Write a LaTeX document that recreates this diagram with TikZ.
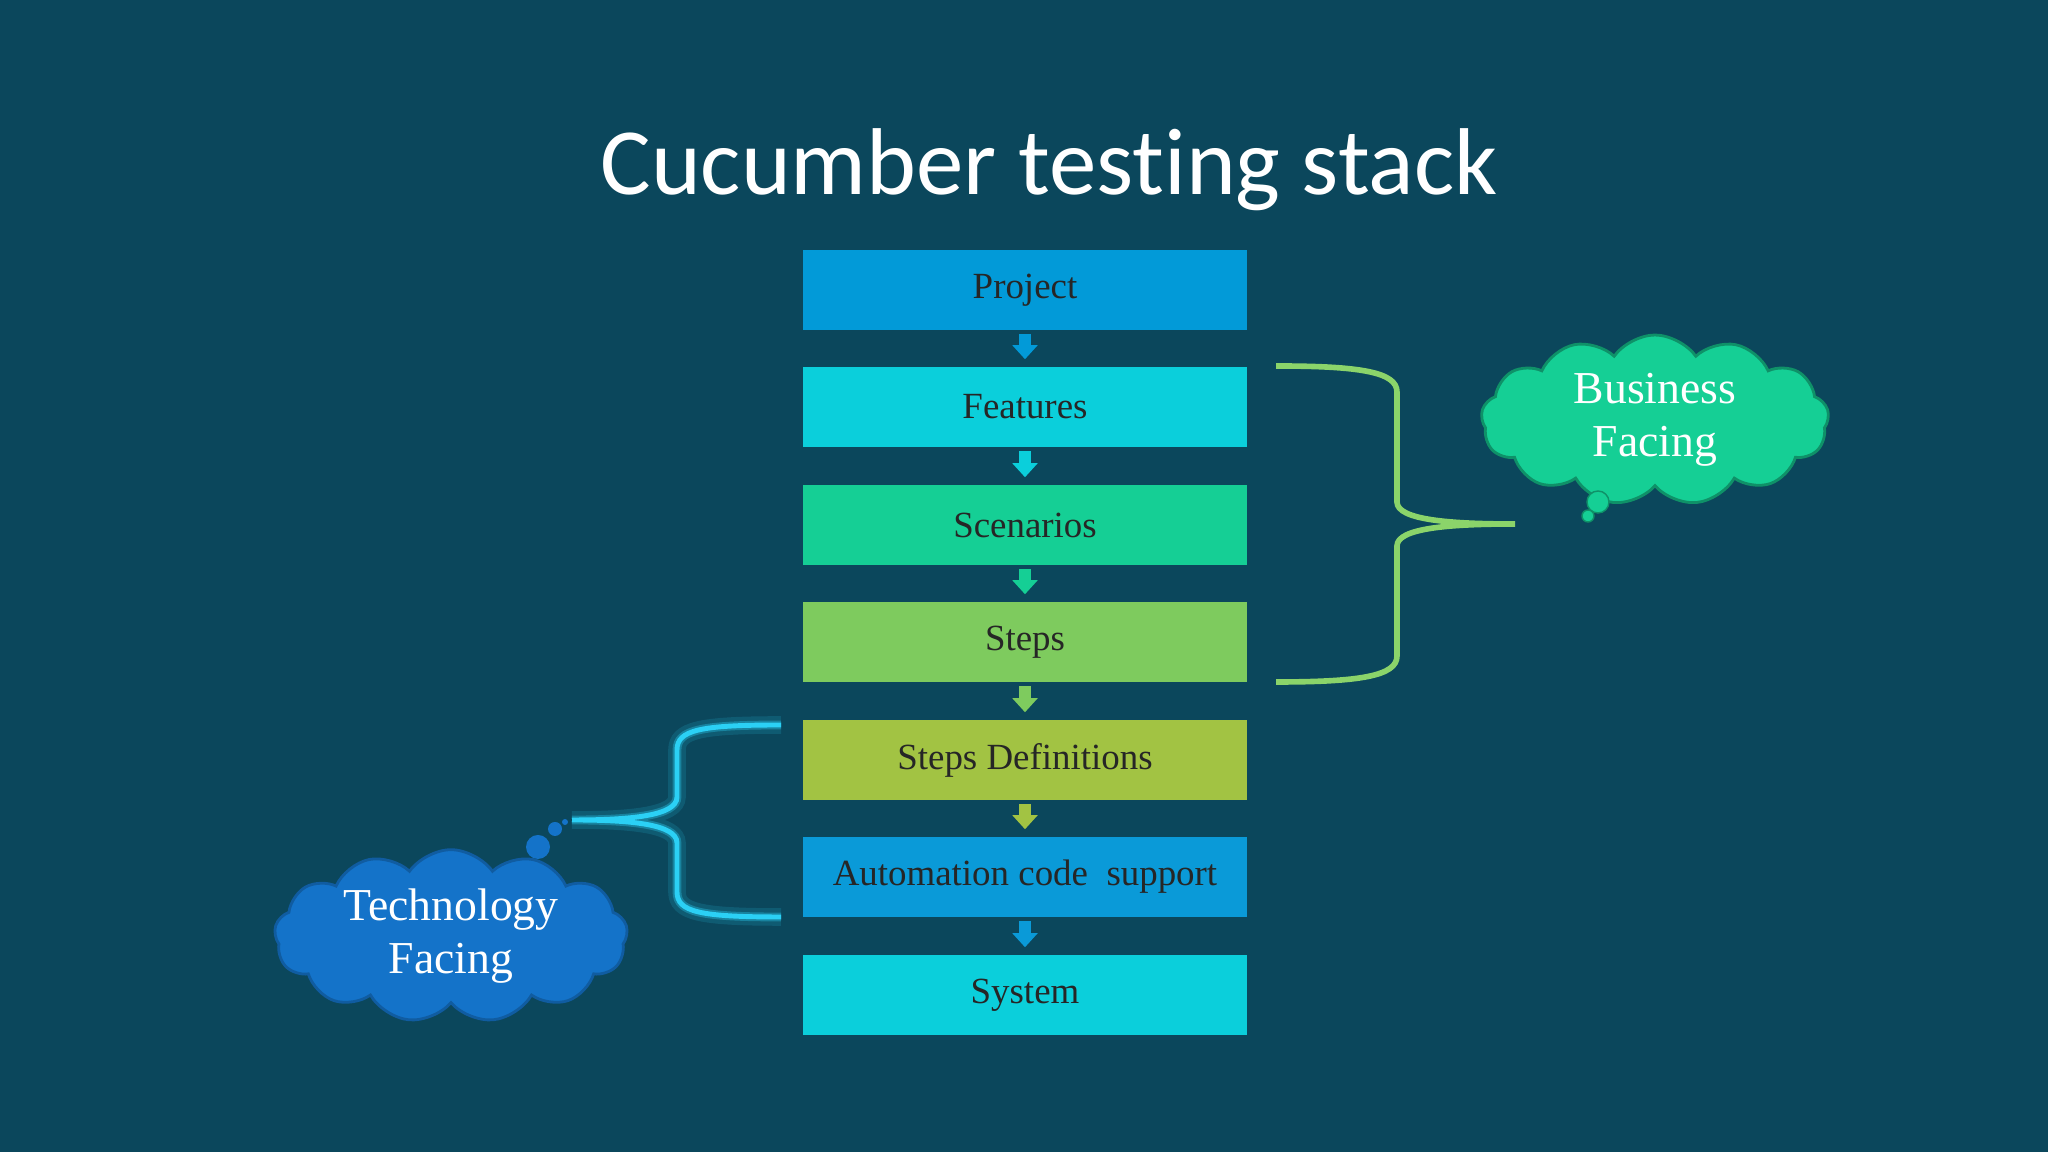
\documentclass[tikz,border=0pt]{standalone}
\usepackage{fontspec}
\setmainfont{Liberation Serif}
\newfontfamily\titlefont{Carlito}[Ligatures=NoCommon]
\usetikzlibrary{shapes.symbols,arrows.meta}
\definecolor{bg}{HTML}{0B475C}
\definecolor{cproj}{HTML}{029AD8}
\definecolor{cfeat}{HTML}{0BCFDB}
\definecolor{cscen}{HTML}{15CF95}
\definecolor{csteps}{HTML}{7ECB5E}
\definecolor{cdef}{HTML}{A2C343}
\definecolor{cauto}{HTML}{0A9AD8}
\definecolor{cbrace}{HTML}{8BD46A}
\definecolor{ctech}{HTML}{1473C9}
\definecolor{cglow}{HTML}{2BD0F5}
\begin{document}
\begin{tikzpicture}[
    box/.style={rectangle, minimum width=4.44cm, minimum height=0.8cm, inner xsep=2pt, font=\fontsize{10.5}{12}\selectfont, text=black!85},
    downarr/.style={-{Triangle[width=7pt,length=4pt]}, line width=3.5pt},
    puff/.style={cloud, cloud puffs=13, cloud puff arc=110, aspect=2.6, inner sep=0pt, draw, line width=0.8pt, text=white, align=center, font=\fontsize{13}{15}\selectfont}
]
\useasboundingbox (0,0) rectangle (20.48,11.52);
\fill[bg] (0,0) rectangle (20.48,11.52);
\node[text=white, font=\titlefont\fontsize{27}{32}\selectfont] (title) at (10.49,9.82) {Cucumber testing stack};

\node[box, fill=cproj]  (project)  at (10.25,8.62) {Project};
\node[box, fill=cfeat]  (features) at (10.25,7.45) {Features};
\node[box, fill=cscen]  (scen)     at (10.25,6.27) {Scenarios};
\node[box, fill=csteps] (steps)    at (10.25,5.10) {Steps};
\node[box, fill=cdef]   (defs)     at (10.25,3.92) {Steps Definitions};
\node[box, fill=cauto]  (auto)     at (10.25,2.75) {Automation code\ \ support};
\node[box, fill=cfeat]  (system)   at (10.25,1.57) {System};

\draw[downarr, cproj]  ([yshift=-1pt]project.south)  -- ([yshift=2pt]features.north);
\draw[downarr, cfeat]  ([yshift=-1pt]features.south) -- ([yshift=2pt]scen.north);
\draw[downarr, cscen]  ([yshift=-1pt]scen.south)     -- ([yshift=2pt]steps.north);
\draw[downarr, csteps] ([yshift=-1pt]steps.south)    -- ([yshift=2pt]defs.north);
\draw[downarr, cdef]   ([yshift=-1pt]defs.south)     -- ([yshift=2pt]auto.north);
\draw[downarr, cauto]  ([yshift=-1pt]auto.south)     -- ([yshift=2pt]system.north);

% business brace
\draw[cbrace, line width=1.6pt]
  (12.76,7.86) .. controls (13.6,7.86) and (13.97,7.8) .. (13.97,7.6)
  -- (13.97,6.5) .. controls (13.97,6.32) and (14.5,6.28) .. (15.15,6.28)
  (12.76,4.70) .. controls (13.6,4.70) and (13.97,4.76) .. (13.97,4.96)
  -- (13.97,6.06) .. controls (13.97,6.24) and (14.5,6.28) .. (15.15,6.28);
\node[puff, fill=cscen, draw=cscen!70!black, minimum width=3.3cm, minimum height=1.05cm] (business) at (16.55,7.32) {Business\\Facing};
\fill[cscen, draw=cscen!70!black] (15.98,6.5) circle (0.11);
\fill[cscen, draw=cscen!70!black] (15.88,6.36) circle (0.06);

% technology brace
\foreach \w/\o in {5pt/0.15, 2.5pt/0.35, 1.4pt/1}{
\draw[cglow, opacity=\o, line width=\w]
  (7.81,4.27) .. controls (7.0,4.27) and (6.77,4.22) .. (6.77,4.02)
  -- (6.77,3.55) .. controls (6.77,3.36) and (6.3,3.32) .. (5.72,3.32)
  (7.81,2.35) .. controls (7.0,2.35) and (6.77,2.40) .. (6.77,2.60)
  -- (6.77,3.09) .. controls (6.77,3.28) and (6.3,3.32) .. (5.72,3.32);}
\node[puff, fill=ctech, draw=ctech!80!black, minimum width=3.45cm, minimum height=1.1cm] (tech) at (4.51,2.16) {Technology\\Facing};
\fill[ctech] (5.38,3.05) circle (0.12);
\fill[ctech] (5.55,3.23) circle (0.07);
\fill[ctech] (5.65,3.3) circle (0.03);
\end{tikzpicture}
\end{document}
